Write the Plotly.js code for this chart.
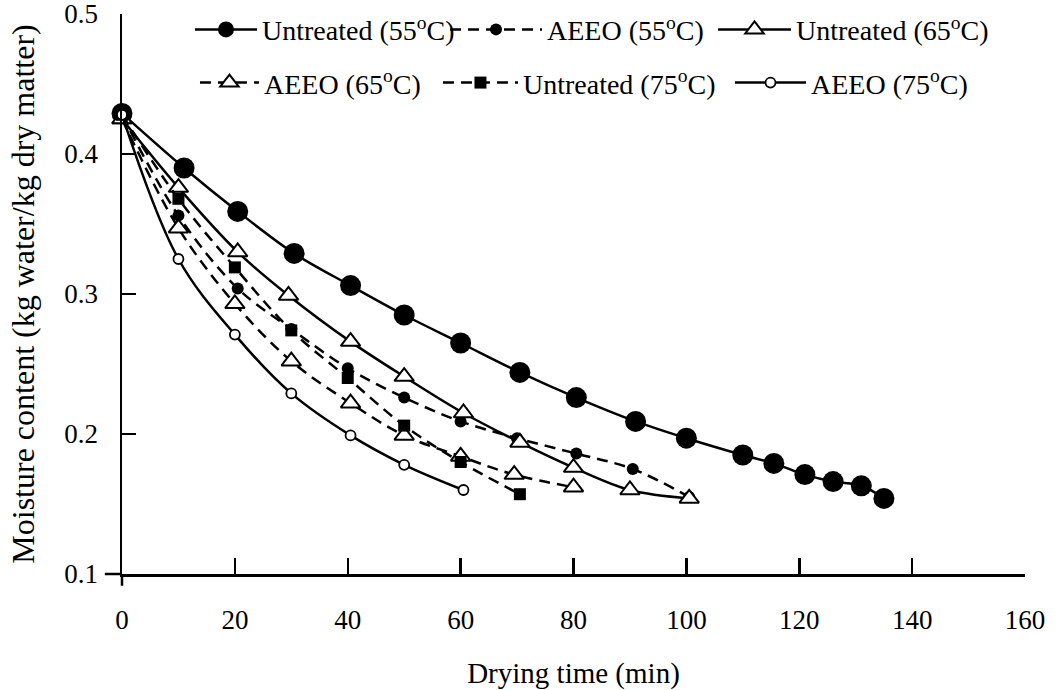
<!DOCTYPE html>
<html>
<head>
<meta charset="utf-8">
<script src="https://cdn.plot.ly/plotly-3.0.1.min.js"></script>
<style>html,body{margin:0;padding:0;background:#fff;}#chart{width:1059px;height:690px;}</style>
</head>
<body>
<div id="chart"></div>
<script>
// Data
var seriesNames = ["Untreated (55<sup>o</sup>C)", "AEEO (55<sup>o</sup>C)", "Untreated (65<sup>o</sup>C)",
                   "AEEO (65<sup>o</sup>C)", "Untreated (75<sup>o</sup>C)", "AEEO (75<sup>o</sup>C)"];

var time55U = [0, 11, 20.5, 30.5, 40.5, 50, 60, 70.5, 80.5, 91, 100, 110, 115.5, 121, 126, 131, 135];
var mc55U   = [0.429, 0.390, 0.359, 0.329, 0.306, 0.285, 0.265, 0.244, 0.226, 0.209, 0.197, 0.185, 0.179, 0.171, 0.166, 0.163, 0.154];

var time55A = [0, 10, 20.5, 30, 40, 50, 60, 70, 80.5, 90.5, 100.5];
var mc55A   = [0.428, 0.356, 0.304, 0.275, 0.247, 0.226, 0.209, 0.197, 0.186, 0.175, 0.155];

var time65U = [0, 10, 20.5, 29.5, 40.5, 50, 60.5, 70.5, 80, 90, 100.5];
var mc65U   = [0.425, 0.376, 0.330, 0.299, 0.266, 0.241, 0.215, 0.194, 0.176, 0.160, 0.154];

var time65A = [0, 10, 20, 30, 40.5, 50, 60, 69.5, 80];
var mc65A   = [0.425, 0.347, 0.293, 0.252, 0.222, 0.199, 0.184, 0.171, 0.162];

var time75U = [0, 10, 20, 30, 40, 50, 60, 70.5];
var mc75U   = [0.428, 0.368, 0.319, 0.274, 0.240, 0.206, 0.180, 0.157];

var time75A = [0, 10, 20, 30, 40.5, 50, 60.5];
var mc75A   = [0.428, 0.325, 0.271, 0.229, 0.199, 0.178, 0.160];

var xTicks = [0, 20, 40, 60, 80, 100, 120, 140, 160];
var yTicks = [0.1, 0.2, 0.3, 0.4, 0.5];

var FONT = "Liberation Serif, Times New Roman, serif";
var DASH = "11px,7px";

function tr(x, y, name, legend, marker, dash) {
  return {
    x: x, y: y, name: name, legend: legend, type: "scatter", mode: "lines+markers",
    line: {color: "#000", width: 2.5, shape: "spline", smoothing: 1, dash: dash},
    marker: marker, cliponaxis: false
  };
}

var data = [
  tr(time55U, mc55U, seriesNames[0], "legend",
     {symbol: "circle", size: 21, color: "#000"}, "solid"),
  tr(time55A, mc55A, seriesNames[1], "legend2",
     {symbol: "circle", size: 12, color: "#000"}, DASH),
  tr(time65U, mc65U, seriesNames[2], "legend3",
     {symbol: "triangle-up", size: 17, color: "#fff", line: {color: "#000", width: 2}}, "solid"),
  tr(time65A, mc65A, seriesNames[3], "legend4",
     {symbol: "triangle-up", size: 17, color: "#fff", line: {color: "#000", width: 2}}, DASH),
  tr(time75U, mc75U, seriesNames[4], "legend5",
     {symbol: "square", size: 12, color: "#000"}, DASH),
  tr(time75A, mc75A, seriesNames[5], "legend6",
     {symbol: "circle", size: 10, color: "#fff", line: {color: "#000", width: 1.8}}, "solid")
];

function leg(x, y, iw) {
  return {
    orientation: "h", xanchor: "left", yanchor: "middle", x: x, y: y,
    font: {family: FONT, size: 28, color: "#000"},
    bgcolor: "rgba(0,0,0,0)", itemwidth: iw
  };
}

var layout = {
  width: 1059, height: 690,
  margin: {l: 122, r: 34, t: 14, b: 116, autoexpand: false},
  paper_bgcolor: "#fff", plot_bgcolor: "#fff",
  font: {family: FONT, color: "#000"},
  showlegend: true,
  legend:  leg(0.0753, 0.972, 62),
  legend2: leg(0.3577, 0.972, 92),
  legend3: leg(0.6545, 0.972, 73),
  legend4: leg(0.0808, 0.877, 59),
  legend5: leg(0.3499, 0.877, 75),
  legend6: leg(0.6733, 0.877, 71),
  xaxis: {
    range: [0, 160], tickmode: "array", tickvals: xTicks, ticktext: xTicks.map(String),
    ticks: "inside", ticklen: 16, tickwidth: 2.5, tickcolor: "#000",
    showline: true, linewidth: 2.5, linecolor: "#000",
    showgrid: false, zeroline: false, ticklabelstandoff: 20, ticklabeloverflow: "allow",
    tickfont: {family: FONT, size: 27, color: "#000"},
    title: {text: "Drying time (min)", font: {family: FONT, size: 29, color: "#000"}, standoff: 30}
  },
  yaxis: {
    range: [0.1, 0.5], tickmode: "array", tickvals: yTicks, ticktext: yTicks.map(function(v){return v.toFixed(1);}),
    ticks: "inside", ticklen: 14, tickwidth: 2.5, tickcolor: "#000",
    showline: true, linewidth: 2.5, linecolor: "#000",
    showgrid: false, zeroline: false, ticklabelstandoff: 16, ticklabeloverflow: "allow",
    tickfont: {family: FONT, size: 27, color: "#000"},
    title: {text: "Moisture content (kg water/kg dry matter)", font: {family: FONT, size: 32, color: "#000"}, standoff: 20}
  },
  shapes: [
    {type: "line", xref: "paper", yref: "paper", x0: -0.019, x1: 0, y0: 0, y1: 0, line: {color: "#000", width: 2.5}},
    {type: "line", xref: "paper", yref: "paper", x0: 0, x1: 0, y0: -0.021, y1: 0, line: {color: "#000", width: 2.5}}
  ]
};

Plotly.newPlot("chart", data, layout, {displayModeBar: false, staticPlot: true});
</script>
</body>
</html>
